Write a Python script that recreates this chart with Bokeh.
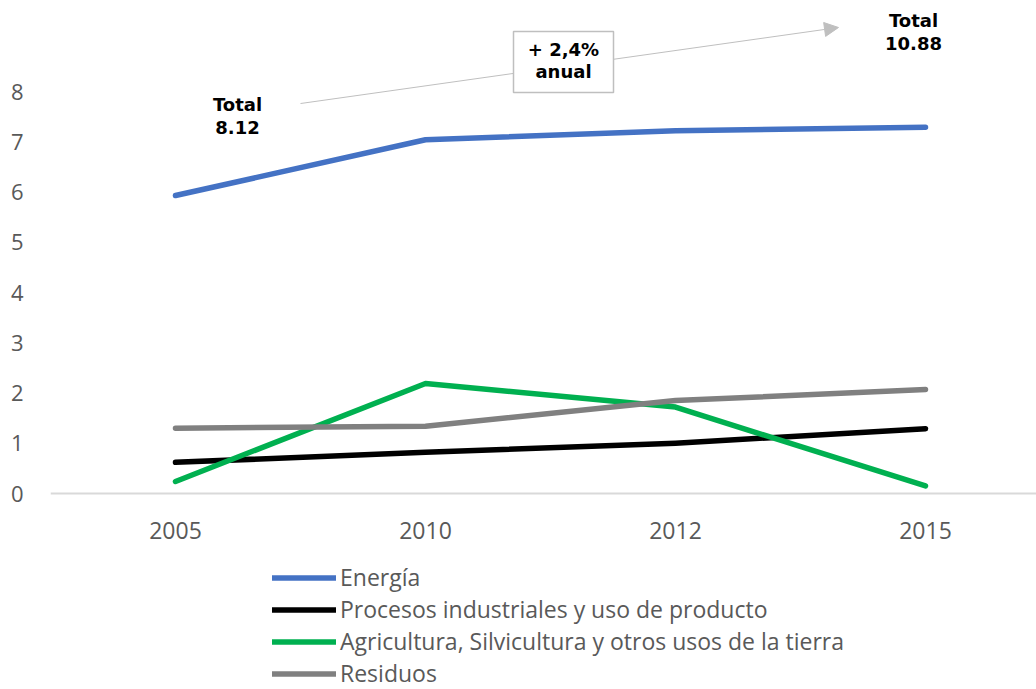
from bokeh.plotting import figure
from bokeh.models import (Range1d, FixedTicker, Legend, LegendItem, Label, Arrow,
                          NormalHead, BoxAnnotation, Span)
from bokeh.core.properties import value
from bokeh.embed import file_html
from bokeh.resources import INLINE

years = ["2005", "2010", "2012", "2015"]
energia = [5.93, 7.04, 7.22, 7.29]
procesos = [0.62, 0.82, 1.0, 1.29]
agricultura = [0.24, 2.19, 1.72, 0.15]
residuos = [1.3, 1.34, 1.85, 2.07]
series_names = ["Energía", "Procesos industriales y uso de producto",
                "Agricultura, Silvicultura y otros usos de la tierra", "Residuos"]
series_colors = ["#4472C4", "#000000", "#00B050", "#808080"]
totals = ["8.12", "10.88"]
growth_text = ["+ 2,4%", "anual"]
y_ticks = [0, 1, 2, 3, 4, 5, 6, 7, 8]

xs = list(range(len(years)))

p = figure(width=1036, height=689, output_backend="svg", toolbar_location=None,
           x_range=Range1d(-0.5, 3.444), y_range=Range1d(-3.90, 9.811),
           x_axis_location=None,
           min_border_left=50, min_border_right=0, min_border_top=0,
           min_border_bottom=0)
p.outline_line_color = None
p.xgrid.visible = False
p.ygrid.visible = False
p.background_fill_color = "white"
p.border_fill_color = "white"

tick_font = "Open Sans"
p.yaxis.ticker = FixedTicker(ticks=y_ticks)
p.yaxis.axis_line_color = None
p.yaxis.major_tick_line_color = None
p.yaxis.minor_tick_line_color = None
p.yaxis.major_label_standoff = 21
p.yaxis.major_label_text_font = tick_font
p.yaxis.major_label_text_font_size = "22px"
p.yaxis.major_label_text_color = "#595959"

# category axis baseline and labels
p.add_layout(Span(location=0, dimension="width", line_color="#D9D9D9", line_width=2))
p.text(x=xs, y=[-0.736] * len(xs), text=years, text_align="center",
       text_baseline="middle", text_font=value(tick_font), text_font_size="23px",
       text_color="#595959")

# annotation arrow + box
arrow = Arrow(end=NormalHead(size=14, fill_color="#BFBFBF", line_color="#BFBFBF"),
              x_start=0.5, y_start=7.761, x_end=2.652, y_end=9.274,
              line_color="#BFBFBF", line_width=1)
p.add_layout(arrow)
box = BoxAnnotation(left=1.352, right=1.752, top=9.194, bottom=7.980,
                    fill_color="white", fill_alpha=1.0, line_color="#BFBFBF",
                    line_width=1.5, line_alpha=1.0)
p.add_layout(box)

lab_font = "DejaVu Sans"
def add_label(x, y, t):
    p.add_layout(Label(x=x, y=y, text=t, text_align="center", text_baseline="middle",
                       text_font=lab_font, text_font_style="bold",
                       text_font_size="18px", text_color="black"))

add_label(0.248, 7.741, "Total")
add_label(0.248, 7.284, totals[0])
add_label(2.952, 9.413, "Total")
add_label(2.952, 8.955, totals[1])
add_label(1.552, 8.836, growth_text[0])
add_label(1.552, 8.398, growth_text[1])

items = []
for name, vals, col in zip(series_names, [energia, procesos, agricultura, residuos], series_colors):
    r = p.line(xs, vals, line_color=col, line_width=5.5, line_cap="round", line_join="round")
    items.append(LegendItem(label=name, renderers=[r]))

legend = Legend(items=items, location=(222, 0), orientation="vertical",
                label_text_font="Open Sans", label_text_font_size="23px",
                label_text_color="#595959", glyph_width=64, glyph_height=31,
                label_height=31, label_standoff=4, spacing=0, padding=0,
                margin=0, border_line_color=None, background_fill_alpha=0)
p.add_layout(legend)

open("out.html", "w").write(file_html(p, INLINE))
